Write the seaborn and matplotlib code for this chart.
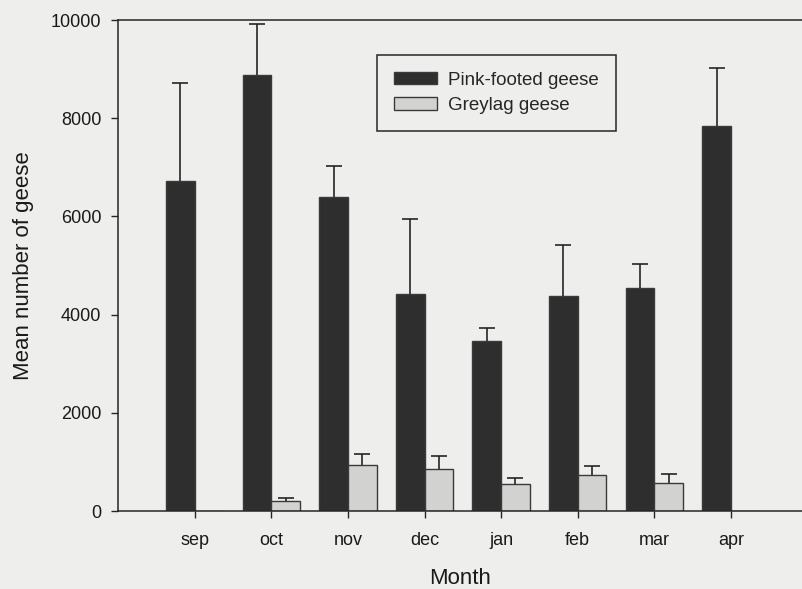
"""
Mean number of pink-footed and greylag geese per month, with upper error bars.
"""

import matplotlib
matplotlib.use("Agg")
import matplotlib.pyplot as plt
import pandas as pd
import seaborn as sns

MONTHS = ["sep", "oct", "nov", "dec", "jan", "feb", "mar", "apr"]
SPECIES = ["Pink-footed geese", "Greylag geese"]
PINK_MEAN = [6720, 8890, 6400, 4420, 3460, 4385, 4535, 7850]
PINK_ERR = [1990, 1030, 630, 1520, 260, 1035, 495, 1165]
GREY_MEAN = [0, 210, 940, 855, 550, 735, 565, 0]
GREY_ERR = [0, 60, 220, 270, 115, 185, 180, 0]
Y_TICKS = [0, 2000, 4000, 6000, 8000, 10000]

BG = "#eeeeec"
DARK = "#2e2e2e"
LIGHT = "#d2d2d0"
INK = "#262626"


# ====================
def main():

    sns.set_theme(style="ticks")
    plt.rcParams["font.family"] = ["Liberation Sans", "DejaVu Sans"]

    df = pd.DataFrame({
        "Month": MONTHS * 2,
        "Mean": PINK_MEAN + GREY_MEAN,
        "Species": [SPECIES[0]] * len(MONTHS) + [SPECIES[1]] * len(MONTHS),
    })

    fig = plt.figure(figsize=(8.03, 5.89), dpi=100, facecolor=BG)
    ax = fig.add_axes([0.147, 0.1324, 0.853, 0.8336], facecolor=BG)

    sns.barplot(data=df, x="Month", y="Mean", hue="Species",
                palette=[DARK, LIGHT], width=0.75, errorbar=None,
                edgecolor="#3a3a3a", linewidth=1, ax=ax)

    # Upper error bars only, centred on each bar
    for bars, means, errs in zip(ax.containers, [PINK_MEAN, GREY_MEAN],
                                 [PINK_ERR, GREY_ERR]):
        for bar, m, e in zip(bars, means, errs):
            if e <= 0:
                continue
            x = bar.get_x() + bar.get_width() / 2
            eb = ax.errorbar(x, m, yerr=[[0], [e]], fmt="none", ecolor=INK,
                             elinewidth=1.2, capsize=6, capthick=1.2)
            # hide the lower cap sitting on the bar top
            eb[1][0].set_visible(False)

    ax.set_ylim(0, 10000)
    ax.set_yticks(Y_TICKS)
    ax.set_yticklabels([str(t) for t in Y_TICKS])
    ax.set_xlim(-1.0, 7.94)

    for side in ["left", "top", "bottom"]:
        ax.spines[side].set_visible(True)
        ax.spines[side].set_color(INK)
        ax.spines[side].set_linewidth(1.1)
    ax.spines["right"].set_visible(False)

    ax.tick_params(axis="both", colors=INK, labelcolor="#1a1a1a",
                   labelsize=13, length=5, width=1)
    ax.tick_params(axis="y", pad=7)
    ax.tick_params(axis="x", pad=10)

    ax.set_xlabel("Month", fontsize=16, color="#1a1a1a", labelpad=14)
    ax.set_ylabel("Mean number of geese", fontsize=16, color="#1a1a1a",
                  labelpad=12)

    # Rebuild the legend in the boxed style of the original
    old = ax.get_legend()
    handles = old.legend_handles
    labels = [t.get_text() for t in old.get_texts()]
    old.remove()
    leg = ax.legend(handles, labels, loc="upper left",
                    bbox_to_anchor=(0.378, 0.929), borderaxespad=0,
                    fontsize=13.5, frameon=True, fancybox=False,
                    edgecolor=INK, facecolor=BG, framealpha=1,
                    handlelength=2.3, handleheight=0.65, handletextpad=0.6,
                    borderpad=0.9, labelspacing=0.45)
    leg.get_frame().set_linewidth(1.1)
    for h in leg.legend_handles:
        h.set_edgecolor("#3a3a3a")

    fig.savefig("out.png", dpi=100, facecolor=BG)


# ====================
if __name__ == "__main__":

    main()
